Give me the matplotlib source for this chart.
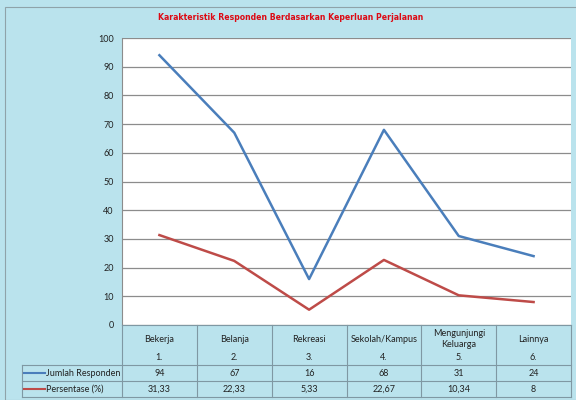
import matplotlib.pyplot as plt
from matplotlib.patches import Rectangle

categories = ["Bekerja", "Belanja", "Rekreasi", "Sekolah/Kampus", "Mengunjungi\nKeluarga", "Lainnya"]
numbers = ["1.", "2.", "3.", "4.", "5.", "6."]
jumlah = [94, 67, 16, 68, 31, 24]
persen = [31.33, 22.33, 5.33, 22.67, 10.34, 8]
series_names = ["Jumlah Responden", "Persentase (%)"]
title = "Karakteristik Responden Berdasarkan Keperluan Perjalanan"

c_blue = '#4a7ebb'
c_red = '#be4b48'
c_bg = '#bae3ed'
c_line = '#7f98a3'
plt.rcParams['font.family'] = ['Lato', 'DejaVu Sans']

W, H = 576, 400
fig = plt.figure(figsize=(W / 100, H / 100), dpi=100)
fig.patch.set_facecolor(c_bg)

# outer chart border
fig.patches.append(Rectangle((5 / W, 0), 580 / W, (H - 7) / H, transform=fig.transFigure,
                             fill=False, edgecolor='#8fa3a9', linewidth=0.8))

# plot area in pixels
left, right, top, bottom = 122, 571, 38, 325
ax = fig.add_axes([left / W, (H - bottom) / H, (right - left) / W, (bottom - top) / H])
ax.set_facecolor('white')
xs = range(len(categories))
ax.plot(xs, jumlah, color=c_blue, linewidth=1.8)
ax.plot(xs, persen, color=c_red, linewidth=1.8)
ax.set_xlim(-0.5, len(categories) - 0.5)
ax.set_ylim(0, 100)
ax.set_yticks(range(0, 101, 10))
ax.set_xticks([])
ax.grid(axis='y', color='#8c8c8c', linewidth=0.9)
ax.set_axisbelow(True)
ax.tick_params(axis='y', length=0, labelsize=6.5, pad=6, colors='#222222')
for s in ['top', 'right']:
    ax.spines[s].set_visible(False)
ax.spines['left'].set_color('#8c8c8c')
ax.spines['bottom'].set_visible(False)

# data table below the plot
tbot = 397
tax = fig.add_axes([left / W, (H - tbot) / H, (right - left) / W, (tbot - bottom) / H])
tax.set_xlim(-0.5, len(categories) - 0.5)
tax.set_ylim(tbot - bottom, 0)
tax.axis('off')
cat_h, row_h = 40, 16
leg_left = -0.5 - 100 / 75
for k in range(len(categories) + 1):
    tax.plot([k - 0.5, k - 0.5], [0, cat_h + 2 * row_h], color=c_line, linewidth=0.8, clip_on=False)
tax.plot([-0.5, len(categories) - 0.5], [0, 0], color=c_line, linewidth=0.8, clip_on=False)
for yy in [cat_h, cat_h + row_h, cat_h + 2 * row_h]:
    tax.plot([leg_left, len(categories) - 0.5], [yy, yy], color=c_line, linewidth=0.8, clip_on=False)
tax.plot([leg_left, leg_left], [cat_h, cat_h + 2 * row_h], color=c_line, linewidth=0.8, clip_on=False)

fs = 6.5
for i, (cat, num) in enumerate(zip(categories, numbers)):
    tax.text(i, 14, cat, ha='center', va='center', fontsize=fs, color='#222222', linespacing=1.3)
    tax.text(i, 33, num, ha='center', va='center', fontsize=fs, color='#222222')
    tax.text(i, cat_h + row_h / 2, str(jumlah[i]), ha='center', va='center', fontsize=fs, color='#222222')
    tax.text(i, cat_h + row_h * 1.5, f"{persen[i]:g}".replace('.', ','), ha='center', va='center',
             fontsize=fs, color='#222222')

for j, (name, col) in enumerate(zip(series_names, [c_blue, c_red])):
    yy = cat_h + row_h * (j + 0.5)
    tax.plot([leg_left + 0.03, leg_left + 0.31], [yy, yy], color=col, linewidth=1.5, clip_on=False)
    tax.text(leg_left + 0.32, yy, name, ha='left', va='center', fontsize=fs, color='#222222')

fig.text(291 / W, 1 - 18 / H, title, ha='center', va='center', fontsize=6.2,
         color='#dc0a14', fontweight='bold', fontstretch='condensed', family='DejaVu Sans')

fig.savefig('out.png', dpi=100, facecolor=fig.get_facecolor())
